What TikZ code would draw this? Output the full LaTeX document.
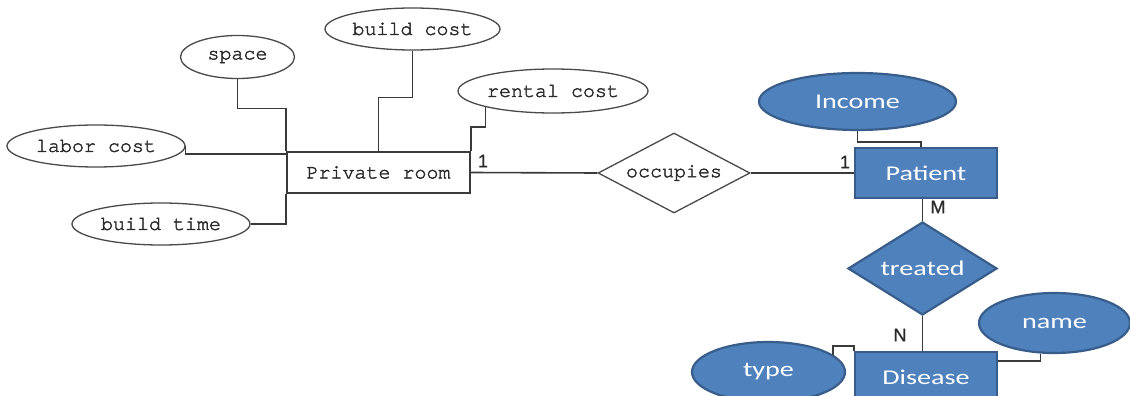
\documentclass[tikz,border=0pt]{standalone}
\usepackage{fontspec}
\usetikzlibrary{shapes.geometric,calc}
\newfontfamily\monofam[FakeBold=2]{TeX Gyre Cursor}
\newfontfamily\blueface[FakeStretch=1.34]{Carlito}
\newfontfamily\labface[FakeBold=1]{Liberation Sans}
\definecolor{lineink}{HTML}{3A3A3A}
\definecolor{shapeink}{HTML}{4A4A4A}
\definecolor{textink}{HTML}{2A2A2A}
\definecolor{bluefill}{HTML}{4F81BD}
\definecolor{blueedge}{HTML}{385D8A}
\tikzset{
  monotext/.style={text=textink, font=\monofam\fontsize{20}{21}\selectfont},
  attr/.style={ellipse, draw=shapeink, line width=1.3pt, fill=white, inner sep=0pt, monotext},
  entbox/.style={rectangle, draw=lineink, line width=1.5pt, fill=white, inner sep=0pt, monotext},
  relbox/.style={diamond, draw=shapeink, line width=1.3pt, fill=white, inner sep=0pt, monotext},
  bluetext/.style={text=white, font=\blueface\fontsize{21}{22}\selectfont},
  battr/.style={ellipse, draw=blueedge, line width=2.2pt, fill=bluefill, inner sep=0pt, bluetext},
  bent/.style={rectangle, draw=blueedge, line width=2.2pt, fill=bluefill, inner sep=0pt, bluetext},
  brel/.style={diamond, draw=blueedge, line width=2.2pt, fill=bluefill, inner sep=0pt, bluetext},
  link/.style={draw=lineink, line width=1.6pt},
  card/.style={text=textink, inner sep=0pt, font=\labface\fontsize{18}{19}\selectfont},
}
\begin{document}
\begin{tikzpicture}[x=1pt,y=-1pt]
\useasboundingbox (0,0) rectangle (1130,396);
\clip (0,0) rectangle (1130,396);
\fill[white] (0,0) rectangle (1130,396);

% Private room and its attributes
\node[entbox, minimum width=183pt, minimum height=41pt] (room) at (378.5,172.5) {Private room};
\node[attr, minimum width=114pt, minimum height=43pt] (space) at (237.5,57) {space};
\node[attr, minimum width=175pt, minimum height=42pt] (bcost) at (412.5,29) {build cost};
\node[attr, minimum width=190pt, minimum height=44pt] (rcost) at (553,91) {rental cost};
\node[attr, minimum width=178pt, minimum height=42pt] (lcost) at (96,146) {labor cost};
\node[attr, minimum width=178pt, minimum height=42pt] (btime) at (161,224) {build time};

% Relationship between the room and the patient
\node[relbox, shape aspect=1.9, minimum width=152pt, minimum height=80pt] (occ) at (674,173) {occupies};

% Patient side
\node[bent, minimum width=142pt, minimum height=50pt] (patient) at (926,173) {Patient};
\node[battr, minimum width=197pt, minimum height=57pt] (income) at (857.5,101.5) {Income};
\node[brel, shape aspect=1.6, minimum width=149pt, minimum height=93pt] (treated) at (922.5,268.5) {treated};
\node[bent, minimum width=142pt, minimum height=50pt] (disease) at (926,377) {Disease};
\node[battr, minimum width=151pt, minimum height=60pt] (name) at (1054.5,323) {name};
\node[battr, minimum width=153pt, minimum height=60pt] (type) at (768.5,372) {type};

% Attribute links of the room
\draw[link] (space.south) -- ++(0,29.5) -| (room.north west);
\draw[link] (bcost.south) -- ++(0,47) -| (room.north);
\draw[link] (rcost.south west) -- ++(0,20) -| (room.north east);
\draw[link] (lcost.east) |- ([yshift=-3pt]room.north west);
\draw[link] (btime.east) -| (room.south west);

% Relationship links
\draw[link] (room.east) -- (occ.west);
\draw[link] (occ.east) -- (patient.west);
\node[card] (c1) at (483,161) {1};
\node[card] (c2) at (845,162) {1};

% Patient side links
\draw[link] (income.south) -- ++(0,11) -| ([xshift=-5pt]patient.north);
\draw[link] (treated.north |- patient.south) -- (treated.north);
\draw[link] (treated.south) -- (treated.south |- disease.north);
\draw[link] ([xshift=-14pt]name.south) |- ([yshift=-10pt]disease.north east);
\draw[link] (type.15) |- ([yshift=5pt]disease.north west) -- (disease.north west);
\node[card] (cm) at (938,207) {M};
\node[card] (cn) at (900,335) {N};
\end{tikzpicture}
\end{document}
